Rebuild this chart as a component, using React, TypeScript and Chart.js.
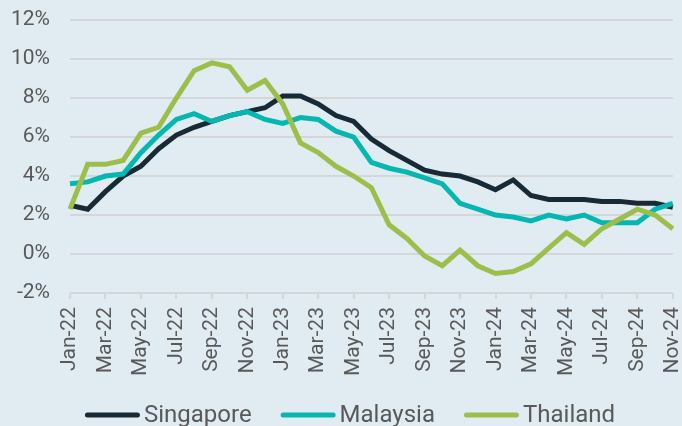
import React, { useEffect, useRef } from "react";
import { Chart, registerables } from "chart.js";

Chart.register(...registerables);

const months = [
  "Jan-22","Feb-22","Mar-22","Apr-22","May-22","Jun-22","Jul-22","Aug-22","Sep-22","Oct-22","Nov-22","Dec-22",
  "Jan-23","Feb-23","Mar-23","Apr-23","May-23","Jun-23","Jul-23","Aug-23","Sep-23","Oct-23","Nov-23","Dec-23",
  "Jan-24","Feb-24","Mar-24","Apr-24","May-24","Jun-24","Jul-24","Aug-24","Sep-24","Oct-24","Nov-24",
];

const singapore = [2.5, 2.3, 3.2, 4.0, 4.5, 5.4, 6.1, 6.5, 6.8, 7.1, 7.3, 7.5, 8.1, 8.1, 7.7, 7.1, 6.8, 5.9, 5.3, 4.8, 4.3, 4.1, 4.0, 3.7, 3.3, 3.8, 3.0, 2.8, 2.8, 2.8, 2.7, 2.7, 2.6, 2.6, 2.4];
const malaysia = [3.6, 3.7, 4.0, 4.1, 5.2, 6.1, 6.9, 7.2, 6.8, 7.1, 7.3, 6.9, 6.7, 7.0, 6.9, 6.3, 6.0, 4.7, 4.4, 4.2, 3.9, 3.6, 2.6, 2.3, 2.0, 1.9, 1.7, 2.0, 1.8, 2.0, 1.6, 1.6, 1.6, 2.3, 2.6];
const thailand = [2.3, 4.6, 4.6, 4.8, 6.2, 6.5, 8.0, 9.4, 9.8, 9.6, 8.4, 8.9, 7.7, 5.7, 5.2, 4.5, 4.0, 3.4, 1.5, 0.8, -0.1, -0.6, 0.2, -0.6, -1.0, -0.9, -0.5, 0.3, 1.1, 0.5, 1.3, 1.8, 2.3, 2.0, 1.3];

const seriesNames = ["Singapore", "Malaysia", "Thailand"];
const seriesColors = ["#182a35", "#05b7b1", "#9cbf4b"];

const yMin = -2;
const yMax = 12;
const yStep = 2;

const BG = "#e0ecf2";
const GRID = "#d5d6d8";
const TEXT = "#595959";
const FONT = "Roboto";

const VIEW_W = 682;
const VIEW_H = 426;
const CANVAS_W = 706;

const legendPlugin = {
  id: "customLegend",
  afterDraw(chart: any) {
    const ctx = chart.ctx as CanvasRenderingContext2D;
    const lineLen = 55;
    const gapText = 4;
    const itemGap = 29;
    ctx.save();
    ctx.font = `24px ${FONT}`;
    const widths = chart.data.datasets.map((d: any) => ctx.measureText(d.label).width);
    const total = widths.reduce((a: number, b: number) => a + b, 0) + chart.data.datasets.length * (lineLen + gapText) + itemGap * (chart.data.datasets.length - 1);
    let x = VIEW_W / 2 + 9 - total / 2;
    const lineY = 415;
    const textY = 422;
    chart.data.datasets.forEach((d: any, i: number) => {
      ctx.strokeStyle = d.borderColor;
      ctx.lineWidth = 5;
      ctx.lineCap = "round";
      ctx.beginPath();
      ctx.moveTo(x + 2.5, lineY);
      ctx.lineTo(x + lineLen - 2.5, lineY);
      ctx.stroke();
      ctx.fillStyle = TEXT;
      ctx.textBaseline = "alphabetic";
      ctx.textAlign = "left";
      ctx.fillText(d.label, x + lineLen + gapText, textY);
      x += lineLen + gapText + widths[i] + itemGap;
    });
    ctx.restore();
  },
};

export default function App() {
  const ref = useRef<HTMLCanvasElement | null>(null);

  useEffect(() => {
    document.body.style.margin = "0";
    document.body.style.background = BG;
    document.body.style.overflow = "hidden";
    const values = [singapore, malaysia, thailand];
    const chart = new Chart(ref.current as HTMLCanvasElement, {
      type: "line",
      data: {
        labels: months,
        datasets: values.map((v, i) => ({
          label: seriesNames[i],
          data: v,
          borderColor: seriesColors[i],
          backgroundColor: seriesColors[i],
          borderWidth: 5,
          pointRadius: 0,
          tension: 0,
          fill: false,
          order: 2 - i,
        })),
      },
      options: {
        responsive: false,
        animation: false,
        layout: { padding: { left: 11, top: 20, right: 0, bottom: 42 } },
        plugins: {
          legend: { display: false },
          tooltip: { enabled: false },
        },
        scales: {
          x: {
            border: { display: false },
            grid: {
              display: true,
              drawOnChartArea: false,
              drawTicks: true,
              tickLength: 6,
              color: GRID,
              lineWidth: 2,
            },
            ticks: {
              autoSkip: false,
              maxRotation: 90,
              minRotation: 90,
              padding: 8,
              color: TEXT,
              font: { family: FONT, size: 21 },
              callback: (_v: any, i: number) => (i % 2 === 0 ? months[i] : null),
            },
          },
          y: {
            min: yMin,
            max: yMax,
            border: { display: false },
            grid: {
              color: GRID,
              lineWidth: 2,
              drawTicks: true,
              tickLength: 20,
              tickColor: "rgba(0,0,0,0)",
            },
            ticks: {
              stepSize: yStep,
              padding: 0,
              color: TEXT,
              font: { family: FONT, size: 21 },
              callback: (v: any) => `${v}%`,
            },
          },
        },
      },
      plugins: [legendPlugin],
    });
    return () => chart.destroy();
  }, []);

  return (
    <div style={{ width: VIEW_W, height: VIEW_H, background: BG, overflow: "hidden" }}>
      <canvas ref={ref} width={CANVAS_W} height={VIEW_H} style={{ display: "block" }} />
    </div>
  );
}
